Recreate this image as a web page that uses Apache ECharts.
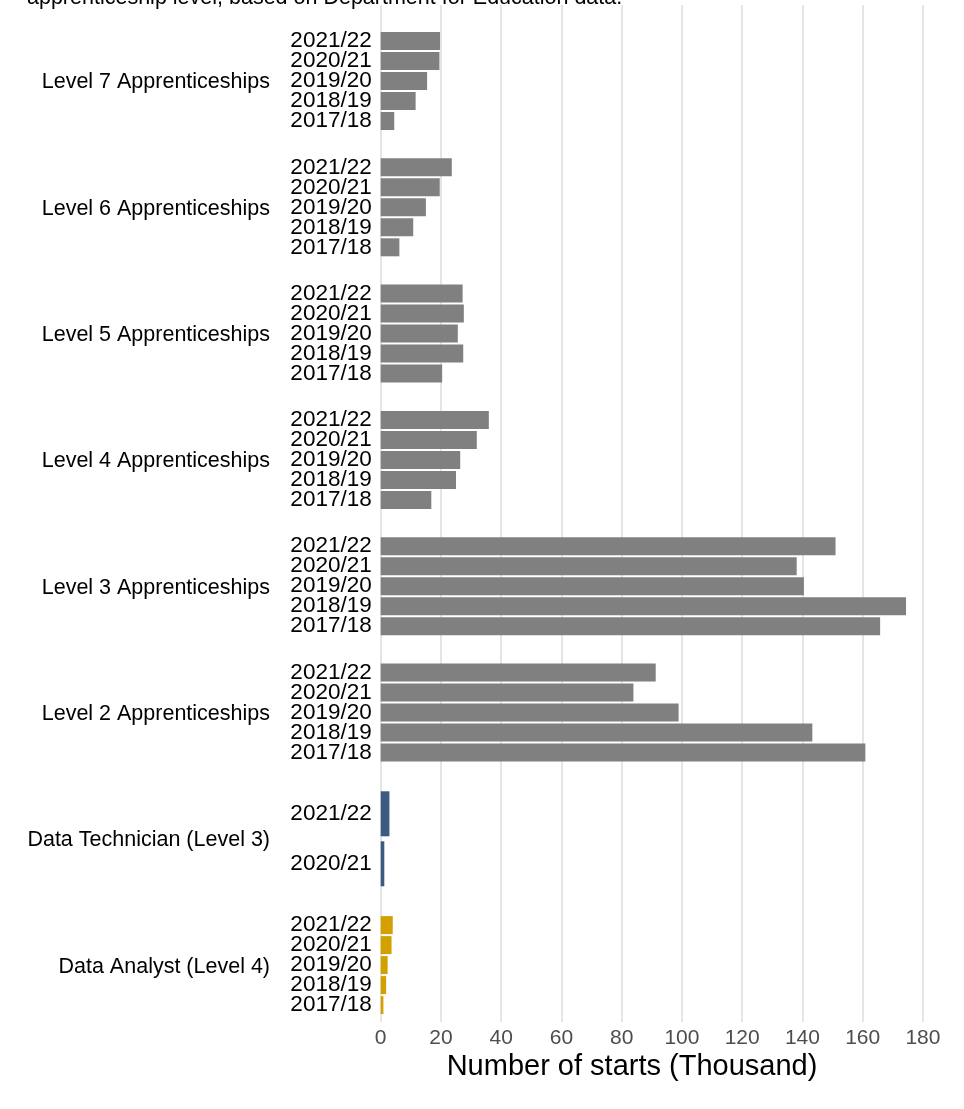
<!DOCTYPE html>
<html>
<head>
<meta charset="utf-8">
<script src="https://cdn.jsdelivr.net/npm/echarts@6/dist/echarts.min.js"></script>
<style>
  html, body { margin: 0; padding: 0; background: #fff; }
  #chart { width: 964px; height: 1109px; }
</style>
</head>
<body>
<div id="chart"></div>
<script>
// facet labels, top to bottom
var groups = [
    'Level 7 Apprenticeships',
    'Level 6 Apprenticeships',
    'Level 5 Apprenticeships',
    'Level 4 Apprenticeships',
    'Level 3 Apprenticeships',
    'Level 2 Apprenticeships',
    'Data Technician (Level 3)',
    'Data Analyst (Level 4)'
];

// category order: first one sits at the bottom of each panel
var years = ['2017/18', '2018/19', '2019/20', '2020/21', '2021/22'];
var techYears = ['2020/21', '2021/22'];

// number of starts, thousands
var level7 = [4.5, 11.6, 15.4, 19.5, 19.7];
var level6 = [6.2, 10.8, 15.0, 19.6, 23.6];
var level5 = [20.4, 27.4, 25.6, 27.6, 27.2];
var level4 = [16.8, 25.0, 26.4, 31.9, 35.9];
var level3 = [165.8, 174.4, 140.5, 138.1, 151.0];
var level2 = [160.9, 143.3, 98.9, 83.9, 91.3];
var dataTechnician = [1.2, 2.9];
var dataAnalyst = [0.9, 1.8, 2.3, 3.6, 4.0];

var xTicks = [0, 20, 40, 60, 80, 100, 120, 140, 160, 180];

var panelValues = [level7, level6, level5, level4, level3, level2, dataTechnician, dataAnalyst];
var panelCats = [years, years, years, years, years, years, techYears, years];
var panelColors = ['#808080', '#808080', '#808080', '#808080', '#808080', '#808080', '#3d5a80', '#d4a000'];

var font = 'Liberation Sans, Arial, Helvetica, sans-serif';
var plotLeft = 380.7;
var plotRight = 41.1;
var firstTop = 31;
var step = 126.3;
var panelH = 100;

var grid = [], xAxis = [], yAxis = [], series = [], graphic = [];

panelValues.forEach(function (vals, i) {
    var top = firstTop + i * step;
    grid.push({ left: plotLeft, right: plotRight, top: top, height: panelH });
    xAxis.push({
        type: 'value', gridIndex: i, min: 0, max: 180, show: false
    });
    yAxis.push({
        type: 'category', gridIndex: i, data: panelCats[i],
        axisLine: { show: false }, axisTick: { show: false },
        axisLabel: {
            interval: 0, fontFamily: font, fontSize: 22.5, color: '#000', margin: 9,
            padding: [3, 0, 0, 0]
        }
    });
    series.push({
        type: 'bar', name: groups[i], xAxisIndex: i, yAxisIndex: i,
        data: vals, barCategoryGap: '10%',
        itemStyle: { color: panelColors[i] },
        silent: true
    });
    graphic.push({
        type: 'text', x: 270, y: top + panelH / 2 + 1.5,
        style: {
            text: groups[i], fontFamily: font, fontSize: 21.5, fill: '#000',
            align: 'right', verticalAlign: 'middle'
        }
    });
});

// background panel carrying the grid lines and the shared x axis
var bg = panelValues.length;
grid.push({ left: plotLeft, right: plotRight, top: 5, bottom: 1109 - 1022 });
xAxis.push({
    type: 'value', gridIndex: bg, min: xTicks[0], max: xTicks[xTicks.length - 1], interval: 20,
    axisLine: { show: false }, axisTick: { show: false },
    axisLabel: { fontFamily: font, fontSize: 21, color: '#4d4d4d', margin: 6 },
    splitLine: { show: true, lineStyle: { color: '#e5e5e5', width: 2 } }
});
yAxis.push({ type: 'value', gridIndex: bg, show: false });
series.push({ type: 'bar', xAxisIndex: bg, yAxisIndex: bg, data: [], silent: true });

graphic.push({
    type: 'text', x: 632, y: 1067,
    style: {
        text: 'Number of starts (Thousand)', fontFamily: font, fontSize: 29, fill: '#000',
        align: 'center', verticalAlign: 'middle'
    }
});
graphic.push({
    type: 'text', x: 27, y: 9,
    style: {
        text: 'apprenticeship level, based on Department for Education data.',
        fontFamily: font, fontSize: 21.5, fill: '#000',
        align: 'left', verticalAlign: 'bottom'
    }
});

var chart = echarts.init(document.getElementById('chart'));
chart.setOption({
    backgroundColor: '#fff',
    animation: false,
    grid: grid,
    xAxis: xAxis,
    yAxis: yAxis,
    series: series,
    graphic: graphic
});
</script>
</body>
</html>
